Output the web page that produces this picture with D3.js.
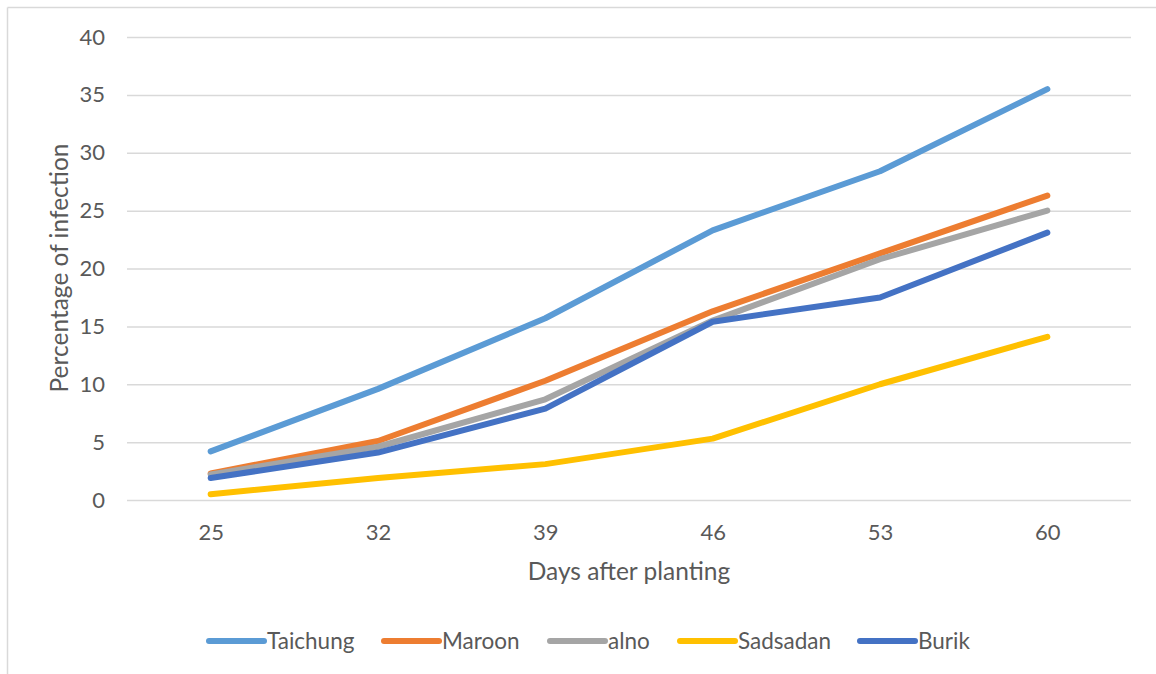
<!DOCTYPE html>
<html>
<head>
<meta charset="utf-8">
<script src="https://cdn.jsdelivr.net/npm/d3@7"></script>
<style>
  html, body { margin: 0; padding: 0; background: #fff; }
  svg { display: block; }
  text { font-family: Lato, "Open Sans", sans-serif; fill: #595959; }
</style>
</head>
<body>
<svg id="chart" width="1156" height="674"></svg>
<script>
const categories = ["25", "32", "39", "46", "53", "60"];
const seriesNames = ["Taichung", "Maroon", "alno", "Sadsadan", "Burik"];
const taichung = [4.2, 9.6, 15.7, 23.3, 28.4, 35.5];
const maroon   = [2.3, 5.1, 10.3, 16.3, 21.3, 26.3];
const alno     = [2.2, 4.6, 8.7, 15.5, 20.8, 25.0];
const sadsadan = [0.5, 1.9, 3.1, 5.3, 10.0, 14.1];
const burik    = [1.9, 4.1, 7.9, 15.4, 17.5, 23.1];
const yTicks = [0, 5, 10, 15, 20, 25, 30, 35, 40];
const colors = ["#5B9BD5", "#ED7D31", "#A5A5A5", "#FFC000", "#4472C4"];
const xTitle = "Days after planting";
const yTitle = "Percentage of infection";

const series = [
  { name: seriesNames[0], values: taichung, color: colors[0] },
  { name: seriesNames[1], values: maroon,   color: colors[1] },
  { name: seriesNames[2], values: alno,     color: colors[2] },
  { name: seriesNames[3], values: sadsadan, color: colors[3] },
  { name: seriesNames[4], values: burik,    color: colors[4] }
];

const svg = d3.select("#chart");

// chart border (top and left visible)
svg.append("line").attr("x1", 7.5).attr("x2", 1156).attr("y1", 7.5).attr("y2", 7.5)
  .attr("stroke", "#d9d9d9").attr("stroke-width", 1.5);
svg.append("line").attr("x1", 7.5).attr("x2", 7.5).attr("y1", 7.5).attr("y2", 674)
  .attr("stroke", "#d9d9d9").attr("stroke-width", 1.5);

const x = d3.scalePoint().domain(categories).range([127, 1131]).padding(0.5);
const y = d3.scaleLinear().domain([0, 40]).range([500, 37]);

// gridlines
const yAxis = d3.axisLeft(y).tickValues(yTicks).tickSize(-(1131 - 127)).tickPadding(22);
const gy = svg.append("g").attr("transform", "translate(127,0)").call(yAxis);
gy.select(".domain").remove();
gy.selectAll(".tick line").attr("stroke", "#d9d9d9").attr("stroke-width", 1.5);
gy.selectAll(".tick text").attr("font-size", 22).style("fill", "#595959")
  .attr("font-family", "Lato, sans-serif");

// x axis labels
const xAxis = d3.axisBottom(x).tickSize(0).tickPadding(24);
const gx = svg.append("g").attr("transform", "translate(0,500)").call(xAxis);
gx.select(".domain").remove();
gx.selectAll(".tick text").attr("font-size", 22).style("fill", "#595959")
  .attr("font-family", "Lato, sans-serif");

// titles
svg.append("text").attr("x", 629).attr("y", 580).attr("text-anchor", "middle")
  .attr("font-size", 24.5).text(xTitle);
svg.append("text").attr("transform", "translate(68,268) rotate(-90)")
  .attr("text-anchor", "middle").attr("font-size", 24.5).text(yTitle);

// lines
const line = d3.line().x((d, i) => x(categories[i])).y(d => y(d));
svg.append("g").selectAll("path").data(series).join("path")
  .attr("d", d => line(d.values))
  .attr("fill", "none")
  .attr("stroke", d => d.color)
  .attr("stroke-width", 6)
  .attr("stroke-linecap", "round")
  .attr("stroke-linejoin", "round");

// legend
const legendX = [209, 384, 550, 680, 860];
const lg = svg.append("g").selectAll("g").data(series).join("g")
  .attr("transform", (d, i) => `translate(${legendX[i]},641)`);
lg.append("line").attr("x1", 0).attr("x2", 55).attr("y1", 0).attr("y2", 0)
  .attr("stroke", d => d.color).attr("stroke-width", 6).attr("stroke-linecap", "round");
lg.append("text").attr("x", 58).attr("y", 0).attr("dy", "0.35em")
  .attr("font-size", 22.5).text(d => d.name);
</script>
</body>
</html>
